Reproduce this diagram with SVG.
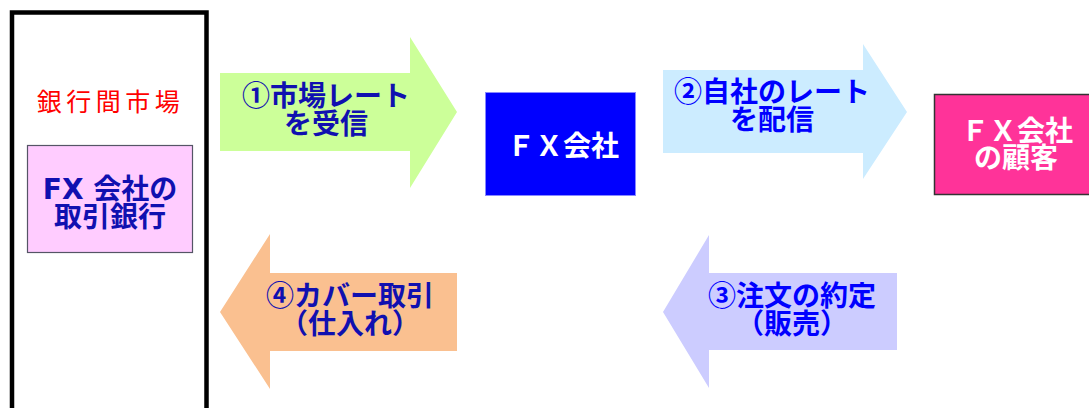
<svg xmlns="http://www.w3.org/2000/svg" width="1089" height="408" viewBox="0 0 1089 408">
<style>
.jp{font-family:"Noto Sans CJK JP","Noto Sans CJK SC",sans-serif;font-weight:bold;font-size:28px;text-anchor:middle}
.navy{fill:#1010B0}
.blue{fill:#0000FF}
.white{fill:#FFFFFF}
.lat{font-family:"DejaVu Sans","Noto Sans CJK JP",sans-serif}
.red{font-family:"Noto Sans CJK JP","Noto Sans CJK SC",sans-serif;font-size:25px;fill:#FF0000;text-anchor:middle;letter-spacing:4.5px}
</style>
<rect width="1089" height="408" fill="#FFFFFF"/>
<g id="interbank-market">
<path d="M12,420 V12.5 H206.5 V420" fill="none" stroke="#000000" stroke-width="4.5"/>
<text class="red" x="110.5" y="111">銀行間市場</text>
</g>
<g id="cover-bank">
<rect x="27.5" y="145.5" width="165" height="107" fill="#FFCCFF" stroke="#555566" stroke-width="1.2"/>
<text class="jp navy" x="110" y="199"><tspan class="lat">FX </tspan>会社の</text>
<text class="jp navy" x="110" y="227">取引銀行</text>
</g>
<g id="fx-company">
<rect x="485.5" y="92.5" width="150" height="103" fill="#0000FF" stroke="#8888FF" stroke-width="1"/>
<text class="jp white" x="563" y="156">ＦＸ会社</text>
</g>
<g id="fx-customer">
<rect x="934.5" y="94.5" width="170" height="100" fill="#FF3399" stroke="#333333" stroke-width="1.5"/>
<text class="jp white" x="1017" y="141">ＦＸ会社</text>
<text class="jp white" x="1016" y="168">の顧客</text>
</g>
<g id="connectors">
<g id="arrow1">
<path d="M220,73 H410 V37 L457,112 L410,188 V151 H220 Z" fill="#CCFF99"/>
<text class="jp navy" x="326" y="106">①市場レート</text>
<text class="jp navy" x="326" y="134">を受信</text>
</g>
<g id="arrow2">
<path d="M663,70 H863 V44 L907,112 L863,179 V153 H663 Z" fill="#CCECFF"/>
<text class="jp blue" x="772" y="102">②自社のレート</text>
<text class="jp blue" x="772" y="130">を配信</text>
</g>
<g id="arrow3">
<path d="M897,273 H709 V235 L663,312 L709,388 V350 H897 Z" fill="#CCCCFF"/>
<text class="jp blue" x="792" y="306">③注文の約定</text>
<text class="jp blue" x="792" y="334">（販売）</text>
</g>
<g id="arrow4">
<path d="M457,273 H270 V234 L220,312 L270,389 V351 H457 Z" fill="#FAC090"/>
<text class="jp navy" x="350" y="306">④カバー取引</text>
<text class="jp navy" x="350" y="334">（仕入れ）</text>
</g>
</g>
</svg>
